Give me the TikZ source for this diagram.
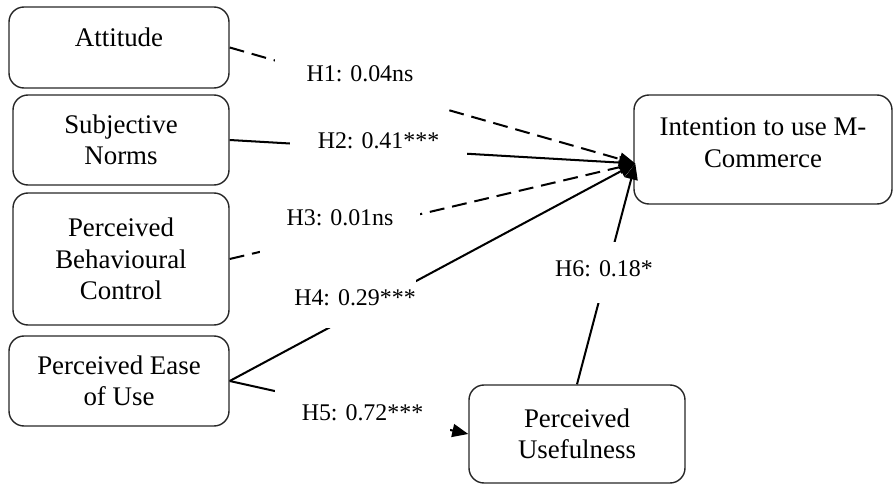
\documentclass[tikz,border=0pt]{standalone}
\usepackage{fontspec}
\setmainfont{Liberation Serif}
\usepackage{tikz}
\usetikzlibrary{arrows.meta,calc}

\begin{document}
\begin{tikzpicture}[
  font=\fontsize{13.6pt}{17pt}\selectfont,
  constbox/.style={draw=black!85, line width=0.8pt, rounded corners=0.3cm, align=center, inner sep=2pt,
    font=\fontsize{15.3pt}{17.8pt}\selectfont},
  hyp/.style={fill=white, inner sep=0pt, text height=0.35cm},
  path/.style={line width=1.15pt, -{Triangle[length=0.32cm, width=0.26cm]}},
  nsPath/.style={path, dash pattern=on 8.5pt off 4.5pt}
]
\useasboundingbox (0,0) rectangle (17.86,-9.7);

% constructs
\node[constbox, minimum width=4.4cm, minimum height=1.62cm, text depth=0.41cm] (attitude) at (2.38,-0.95) {Attitude};
\node[constbox, minimum width=4.32cm, minimum height=1.8cm] (subjNorms) at (2.42,-2.8) {Subjective\\Norms};
\node[constbox, minimum width=4.32cm, minimum height=2.64cm] (behControl) at (2.42,-5.18) {Perceived\\Behavioural\\Control};
\node[constbox, minimum width=4.4cm, minimum height=1.8cm] (easeUse) at (2.38,-7.62) {Perceived Ease\\of Use};
\node[constbox, minimum width=5.16cm, minimum height=2.18cm, text depth=0.28cm] (intention) at (15.26,-2.99) {Intention to use M-\\Commerce};
\node[constbox, minimum width=4.32cm, minimum height=1.96cm] (usefulness) at (11.54,-8.68) {Perceived\\Usefulness};

\coordinate (tip) at ($(intention.west)+(0.04,-0.28)$);

% paths
\draw[nsPath] (attitude.east) -- (tip);
\draw[path] (subjNorms.east) -- (tip);
\draw[nsPath] (behControl.east) -- (tip);
\draw[path] (easeUse.east) -- (tip);
\draw[path] (easeUse.east) -- (usefulness.west);
\draw[path] (usefulness.north) -- (tip);

% path coefficients
\node[hyp, minimum width=3.4cm, minimum height=1.1cm, text depth=0.41cm] (labH1) at (7.2,-1.65) {H1: 0.04ns};
\node[hyp, minimum width=3.54cm, minimum height=0.8cm, text depth=0.23cm] (labH2) at (7.57,-2.9) {H2: 0.41***};
\node[hyp, minimum width=3.2cm, minimum height=1.2cm, text depth=0.55cm] (labH3) at (6.8,-4.6) {H3: 0.01ns};
\node[hyp, minimum width=2.44cm, minimum height=1.12cm, text depth=0.15cm] (labH4) at (7.1,-6.0) {H4: 0.29***};
\node[hyp, minimum width=3.5cm, minimum height=1.06cm, text depth=0cm] (labH5) at (7.25,-8.23) {H5: 0.72***};
\node[hyp, minimum width=2.0cm, minimum height=1.22cm, text depth=0.21cm] (labH6) at (12.08,-5.45) {H6: 0.18*};
\end{tikzpicture}
\end{document}
